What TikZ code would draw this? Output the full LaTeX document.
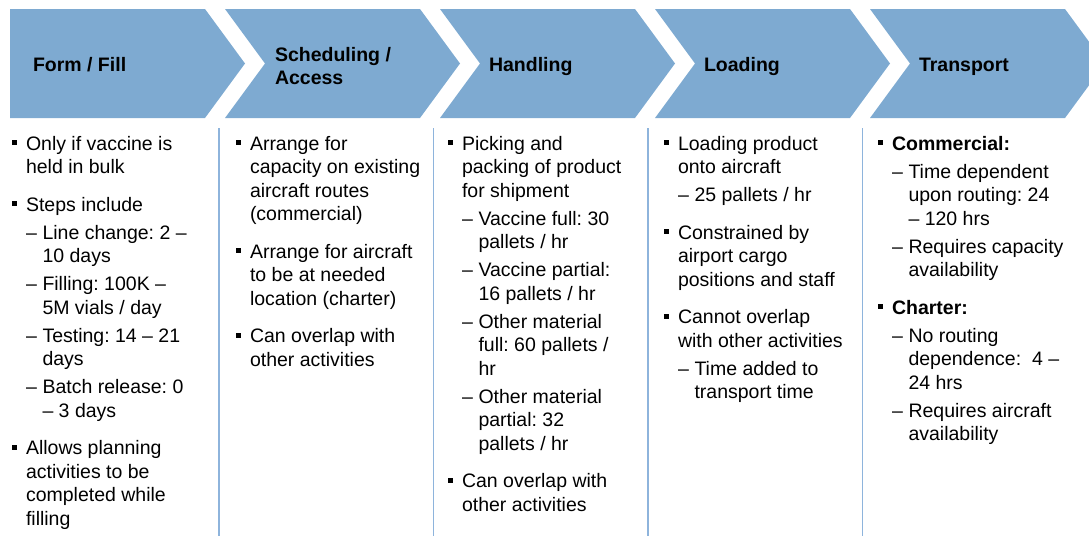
\documentclass[tikz,border=0pt]{standalone}
\usepackage{fontspec}
\setmainfont{Liberation Sans}
\frenchspacing
\definecolor{chev}{HTML}{7EAAD1}
\definecolor{sepc}{HTML}{8EB4DC}
\newcommand\mybul[4]{\node[sq] (#1b) at ({#2-12},{#3-7.5}) {}; \node[txt] (#1) at (#2,#3) {#4};}
\newcommand\myline[4]{\node[txt] (#1) at (#2,#3) {#4};}
\newcommand\mysub[4]{\node[txt] (#1d) at (#2,#3) {–}; \node[txt] (#1) at ({#2+16.5},#3) {#4};}
\begin{document}
\frenchspacing
\begin{tikzpicture}[x=1pt,y=-1pt,
  txt/.style={inner sep=0,outer sep=0,anchor=base west,font=\fontsize{19.5}{23.5}\selectfont\frenchspacing},
  hdr/.style={txt,font=\fontsize{19.5}{23.5}\selectfont\bfseries},
  sq/.style={fill=black,inner sep=0,outer sep=0,minimum size=5pt,anchor=center},
  chevron/.style={fill=chev,draw=none},
  sepline/.style={draw=sepc,line width=1.6pt}]
\clip (0,0) rectangle (1089,536);
\useasboundingbox (0,0) rectangle (1089,536);
% chevrons
\fill[chevron] (10,9) -- (205,9) -- (245,63.5) -- (205,118) -- (10,118) -- cycle;
\foreach \x in {225,440,655,870}
  \fill[chevron] (\x,9) -- ++(195,0) -- ++(40,54.5) -- ++(-40,54.5) -- ++(-195,0) -- ++(40,-54.5) -- cycle;
% headers
\node[hdr] (h1) at (33,71.5) {Form / Fill};
\node[hdr] (h2a) at (275,61) {Scheduling /};
\node[hdr] (h2b) at (275,84) {Access};
\node[hdr] (h3) at (489,71.5) {Handling};
\node[hdr] (h4) at (704,71.5) {Loading};
\node[hdr] (h5) at (919,71.5) {Transport};
% separators
\foreach \x/\n in {219/s1,433.5/s2,648/s3,862.5/s4}{
  \coordinate (\n t) at (\x,128);
  \coordinate (\n b) at (\x,536);
  \draw[sepline] (\n t) -- (\n b);
}
% column 1
\mybul{a1}{26}{150}{Only if vaccine is}
\myline{a2}{26}{173.5}{held in bulk}
\mybul{a3}{26}{211}{Steps include}
\mysub{a4}{26}{239}{Line change: 2 –}
\myline{a5}{42.5}{262.5}{10 days}
\mysub{a6}{26}{290.5}{Filling: 100K –}
\myline{a7}{42.5}{314}{5M vials / day}
\mysub{a8}{26}{342}{Testing: 14 – 21}
\myline{a9}{42.5}{365.5}{days}
\mysub{a10}{26}{393.5}{Batch release: 0}
\myline{a11}{42.5}{417}{– 3 days}
\mybul{a12}{26}{454.5}{Allows planning}
\myline{a13}{26}{478}{activities to be}
\myline{a14}{26}{501.5}{completed while}
\myline{a15}{26}{525}{filling}
% column 2
\mybul{b1}{250}{150}{Arrange for}
\myline{b2}{250}{173.5}{capacity on existing}
\myline{b3}{250}{197}{aircraft routes}
\myline{b4}{250}{220.5}{(commercial)}
\mybul{b5}{250}{258}{Arrange for aircraft}
\myline{b6}{250}{281.5}{to be at needed}
\myline{b7}{250}{305}{location (charter)}
\mybul{b8}{250}{342.5}{Can overlap with}
\myline{b9}{250}{366}{other activities}
% column 3
\mybul{c1}{462}{150}{Picking and}
\myline{c2}{462}{173.5}{packing of product}
\myline{c3}{462}{197}{for shipment}
\mysub{c4}{462}{225}{Vaccine full: 30}
\myline{c5}{478.5}{248.5}{pallets / hr}
\mysub{c6}{462}{276.5}{Vaccine partial:}
\myline{c7}{478.5}{300}{16 pallets / hr}
\mysub{c8}{462}{328}{Other material}
\myline{c9}{478.5}{351.5}{full: 60 pallets /}
\myline{c10}{478.5}{375}{hr}
\mysub{c11}{462}{403}{Other material}
\myline{c12}{478.5}{426.5}{partial: 32}
\myline{c13}{478.5}{450}{pallets / hr}
\mybul{c14}{462}{487.5}{Can overlap with}
\myline{c15}{462}{511}{other activities}
% column 4
\mybul{d1}{678}{150}{Loading product}
\myline{d2}{678}{173.5}{onto aircraft}
\mysub{d3}{678}{201.5}{25 pallets / hr}
\mybul{d4}{678}{239}{Constrained by}
\myline{d5}{678}{262.5}{airport cargo}
\myline{d6}{678}{286}{positions and staff}
\mybul{d7}{678}{323.5}{Cannot overlap}
\myline{d8}{678}{347}{with other activities}
\mysub{d9}{678}{375}{Time added to}
\myline{d10}{694.5}{398.5}{transport time}
% column 5
\mybul{e1}{892}{150}{\textbf{Commercial:}}
\mysub{e2}{892}{178}{Time dependent}
\myline{e3}{908.5}{201.5}{upon routing: 24}
\myline{e4}{908.5}{225}{– 120 hrs}
\mysub{e5}{892}{253}{Requires capacity}
\myline{e6}{908.5}{276.5}{availability}
\mybul{e7}{892}{314}{\textbf{Charter:}}
\mysub{e8}{892}{342}{No routing}
\myline{e9}{908.5}{365.5}{dependence:\ \ 4 –}
\myline{e10}{908.5}{389}{24 hrs}
\mysub{e11}{892}{417}{Requires aircraft}
\myline{e12}{908.5}{440.5}{availability}
\end{tikzpicture}
\end{document}
